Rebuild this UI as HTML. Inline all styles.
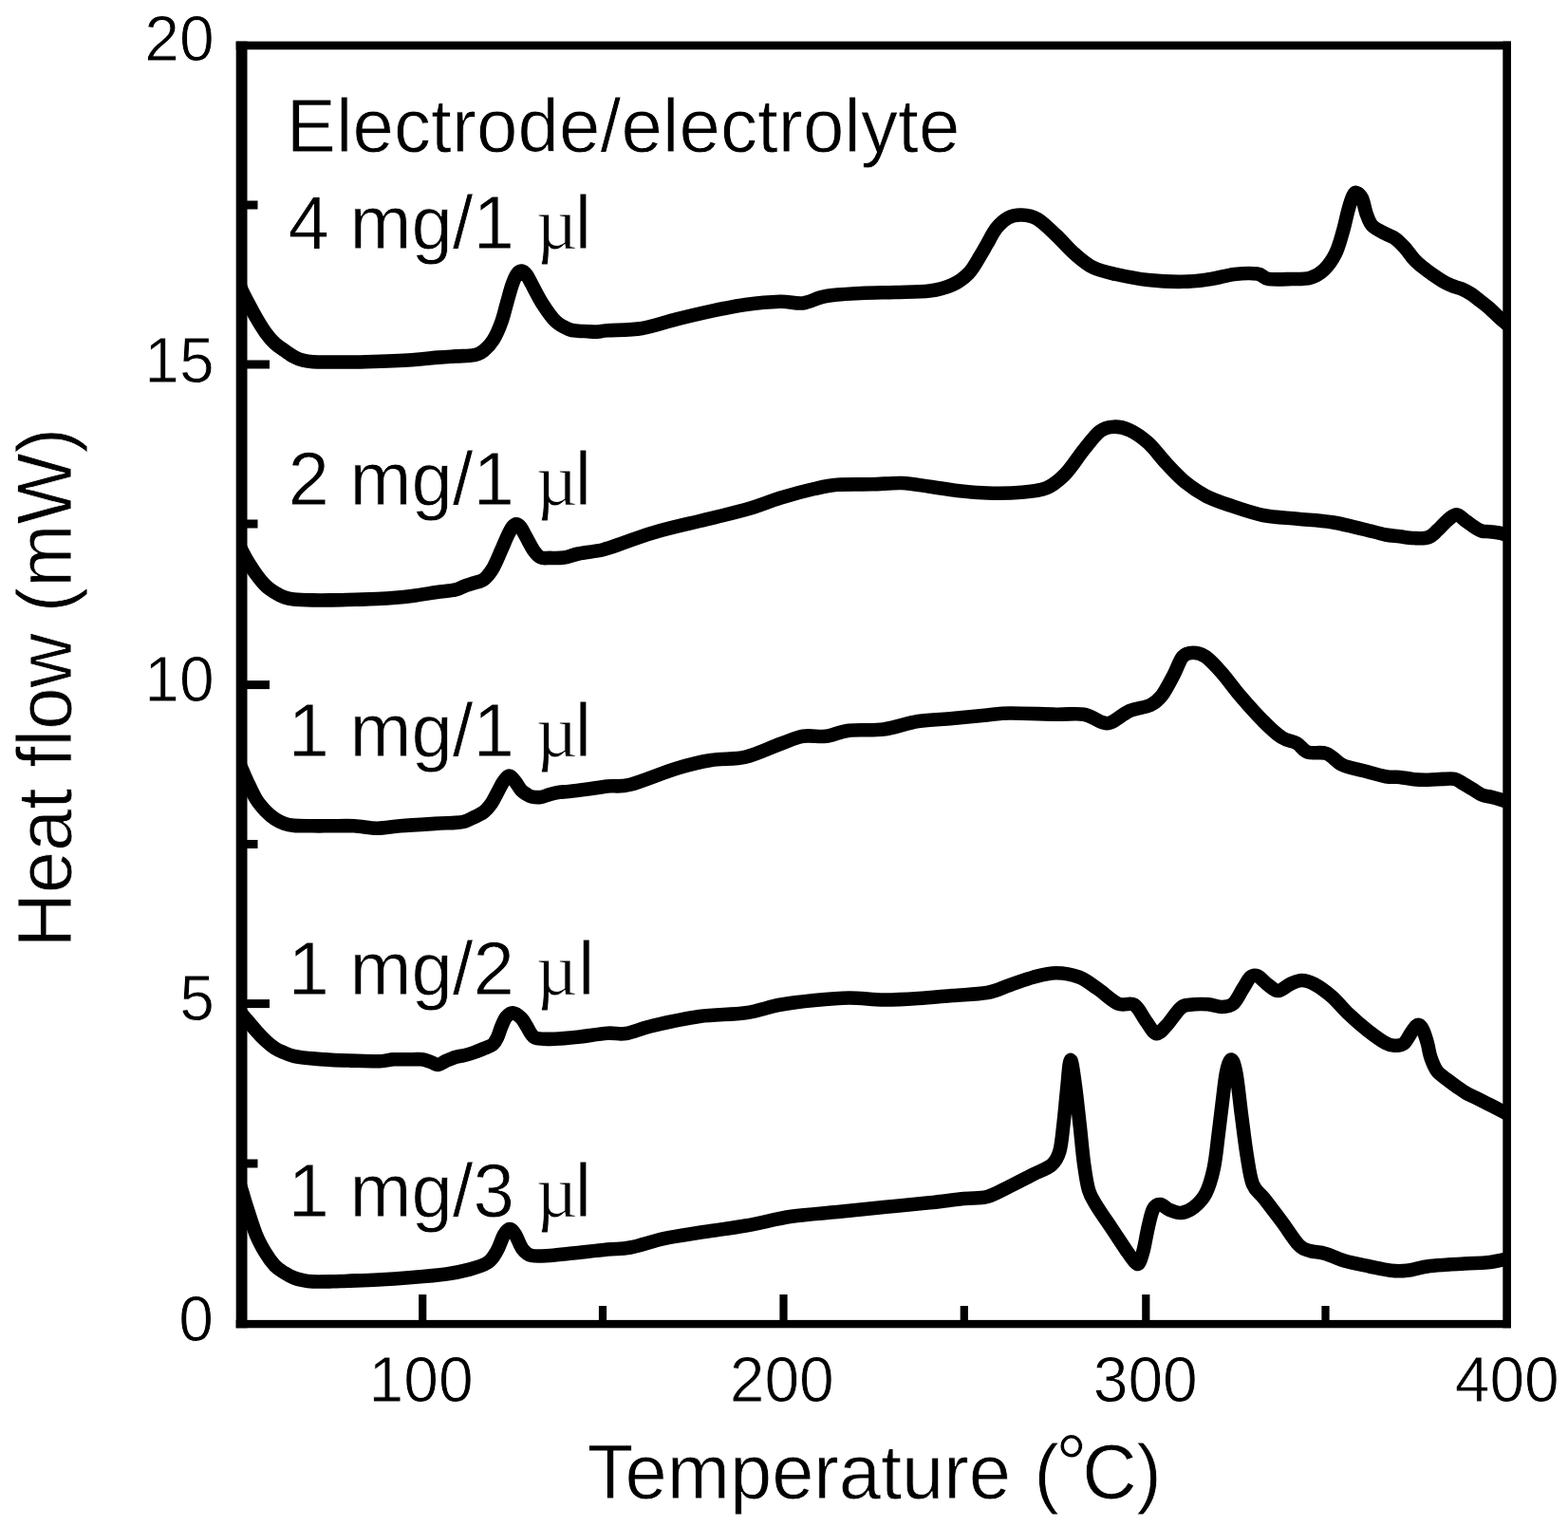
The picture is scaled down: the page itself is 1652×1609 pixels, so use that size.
<!DOCTYPE html>
<html lang="en">
<head>
<meta charset="utf-8">
<title>Heat flow vs temperature for electrode/electrolyte ratios</title>
<style>
html,body{margin:0;padding:0;background:#fff;}
body{width:1652px;height:1609px;overflow:hidden;}
svg{display:block;}
text{font-family:"Liberation Sans",sans-serif;fill:#000;stroke:#fff;stroke-width:0.8;}
.tk{font-size:66px;}
.lb{font-size:78px;}
.ax{font-size:79.5px;}
.mu{font-family:"Liberation Serif",serif;font-size:76px;}
.dg{font-size:84px;}
.cv{fill:none;stroke:#000;stroke-width:14.6;stroke-linejoin:round;stroke-linecap:butt;}
.fr{fill:#000;}
</style>
</head>
<body>
<svg width="1652" height="1609" viewBox="0 0 1652 1609" role="img" aria-label="Heat flow (mW) versus temperature for five electrode/electrolyte ratios">
<rect x="0" y="0" width="1652" height="1609" fill="#fff"/>
<g id="labels">
<text class="lb" style="letter-spacing:0.15px" transform="translate(301.8 159.5) scale(1 1.03)">Electrode/electrolyte</text>
<text class="lb" transform="translate(0 262) scale(1 1.03)"><tspan x="303.5">4 mg/1 </tspan><tspan class="mu" x="564.8">µ</tspan><tspan x="605.7">l</tspan></text>
<text class="lb" transform="translate(0 532) scale(1 1.03)"><tspan x="303.5">2 mg/1 </tspan><tspan class="mu" x="564.8">µ</tspan><tspan x="605.7">l</tspan></text>
<text class="lb" transform="translate(0 796.6) scale(1 1.03)"><tspan x="303.5">1 mg/1 </tspan><tspan class="mu" x="564.8">µ</tspan><tspan x="605.7">l</tspan></text>
<text class="lb" transform="translate(0 1048.1) scale(1 1.03)"><tspan x="303.5">1 mg/2 </tspan><tspan class="mu" x="564.8">µ</tspan><tspan x="608.9">l</tspan></text>
<text class="lb" transform="translate(0 1282.3) scale(1 1.03)"><tspan x="303.5">1 mg/3 </tspan><tspan class="mu" x="564.8">µ</tspan><tspan x="605.7">l</tspan></text>
</g>
<defs><clipPath id="plotclip"><rect x="250.7" y="43.6" width="1339.3" height="1355.7"/></clipPath></defs>
<g id="curves" clip-path="url(#plotclip)">
<path class="cv" d="M246.7 286.1C247.6 288.2 250.5 295.4 252.0 299.0C253.5 302.6 254.1 304.5 255.5 307.5C256.9 310.5 258.0 312.6 260.4 317.1C262.8 321.6 266.6 328.9 269.8 334.5C273.0 340.1 276.5 345.8 279.8 350.4C283.1 355.0 286.4 358.8 289.7 361.9C293.0 365.0 296.4 367.0 299.7 369.3C303.0 371.6 306.3 374.1 309.6 375.8C312.9 377.6 316.3 378.9 319.6 379.8C322.9 380.7 324.4 381.0 329.5 381.3C334.6 381.6 340.7 381.5 350.0 381.5C359.3 381.5 371.5 381.6 385.5 381.2C399.5 380.8 421.2 380.1 434.0 379.3C446.8 378.5 454.3 377.2 462.0 376.6C469.7 376.0 473.7 375.8 480.0 375.4C486.3 375.0 494.9 375.2 499.9 374.2C504.9 373.2 506.5 372.1 509.8 369.4C513.1 366.7 516.7 363.0 519.8 358.0C522.9 353.0 525.9 346.0 528.2 339.6C530.6 333.2 532.0 326.3 533.9 319.7C535.8 313.1 537.9 304.9 539.7 299.8C541.5 294.7 542.9 291.4 544.5 289.0C546.1 286.6 547.9 285.4 549.6 285.6C551.4 285.8 553.2 287.6 555.0 290.0C556.8 292.4 557.7 294.9 560.4 299.8C563.1 304.8 567.1 313.2 571.3 319.7C575.5 326.2 580.7 334.1 585.4 338.6C590.1 343.2 595.3 345.3 599.3 347.0C603.3 348.7 606.0 348.3 609.3 348.7C612.6 349.1 615.9 349.0 619.2 349.2C622.5 349.4 625.7 349.8 629.2 349.6C632.7 349.5 632.1 348.9 640.0 348.3C647.9 347.7 664.3 348.0 676.4 346.0C688.5 344.0 700.6 339.4 712.7 336.4C724.8 333.4 736.9 330.5 749.0 327.9C761.1 325.3 773.4 322.7 785.5 321.0C797.6 319.3 811.7 318.0 821.8 317.7C831.9 317.4 837.9 320.3 846.0 319.4C854.1 318.4 860.2 313.7 870.3 312.0C880.4 310.3 894.6 309.7 906.7 309.0C918.8 308.3 930.9 308.4 943.0 308.0C955.1 307.6 969.3 307.8 979.4 306.5C989.5 305.2 996.7 303.1 1003.6 300.0C1010.5 296.9 1015.8 292.9 1020.6 287.9C1025.5 282.8 1029.5 274.8 1032.7 269.7C1035.9 264.6 1037.2 261.9 1040.0 257.0C1042.8 252.2 1046.1 245.2 1049.7 240.6C1053.3 236.0 1057.3 232.0 1061.8 229.7C1066.2 227.3 1071.2 226.3 1076.4 226.5C1081.7 226.7 1087.2 227.4 1093.3 231.0C1099.3 234.6 1106.2 241.8 1112.7 247.9C1119.2 254.0 1125.5 261.7 1132.0 267.3C1138.5 272.9 1144.2 278.2 1151.5 281.8C1158.8 285.4 1166.1 286.8 1175.8 289.0C1185.5 291.2 1198.0 293.7 1209.7 295.0C1221.4 296.3 1235.0 297.0 1246.0 296.8C1257.0 296.6 1266.9 295.3 1276.0 294.0C1285.1 292.7 1292.4 289.9 1300.5 289.0C1308.6 288.1 1318.7 287.8 1324.7 288.6C1330.8 289.4 1330.8 293.1 1336.8 294.0C1342.8 294.9 1353.7 294.2 1361.0 294.0C1368.3 293.8 1374.8 294.3 1380.5 292.7C1386.2 291.1 1390.6 288.4 1395.0 284.2C1399.4 280.0 1403.8 273.8 1407.0 267.3C1410.2 260.9 1412.2 253.2 1414.4 245.5C1416.7 237.8 1418.7 227.7 1420.5 221.2C1422.3 214.7 1423.9 209.7 1425.3 206.7C1426.7 203.7 1427.4 202.6 1429.0 203.0C1430.6 203.4 1433.2 205.2 1435.0 209.0C1436.8 212.8 1438.1 221.2 1439.9 226.0C1441.7 230.8 1442.7 234.6 1446.0 238.0C1449.3 241.4 1456.0 244.2 1460.0 246.4C1464.0 248.6 1466.6 248.9 1469.9 251.3C1473.2 253.7 1476.6 257.2 1479.9 260.8C1483.2 264.4 1486.5 269.6 1489.8 273.2C1493.1 276.8 1496.5 279.5 1499.8 282.2C1503.1 284.9 1506.4 287.3 1509.7 289.6C1513.0 291.9 1516.4 294.2 1519.7 296.1C1523.0 298.0 1526.3 299.6 1529.6 301.0C1532.9 302.4 1536.3 302.9 1539.6 304.3C1542.9 305.7 1546.2 307.4 1549.5 309.5C1552.8 311.6 1556.1 314.4 1559.4 317.0C1562.7 319.6 1566.1 322.0 1569.4 324.9C1572.7 327.8 1576.3 331.7 1579.3 334.4C1582.3 337.1 1584.2 338.6 1587.3 341.3C1590.4 344.0 1596.1 348.9 1597.9 350.4"/>
<path class="cv" d="M245.4 562.7C246.5 564.7 250.3 571.9 252.0 575.0C253.7 578.1 254.1 578.9 255.5 581.5C256.9 584.1 258.0 586.7 260.4 590.6C262.8 594.5 266.6 600.6 269.8 605.0C273.0 609.4 276.5 613.8 279.8 617.0C283.1 620.2 286.4 622.3 289.7 624.4C293.0 626.5 296.4 628.2 299.7 629.4C303.0 630.6 304.6 630.9 309.6 631.4C314.6 631.9 322.9 632.2 329.5 632.4C336.1 632.6 341.8 632.5 349.4 632.4C357.0 632.3 367.0 631.9 375.0 631.7C383.0 631.5 387.8 631.6 397.6 631.0C407.4 630.4 423.6 629.1 434.0 627.9C444.4 626.7 452.3 625.1 460.0 624.0C467.7 622.9 475.0 622.4 480.0 621.3C485.0 620.2 486.6 618.5 489.9 617.3C493.2 616.1 496.6 615.4 499.9 614.2C503.2 613.1 506.6 612.9 509.8 610.4C513.0 607.9 515.9 604.5 519.0 599.4C522.1 594.3 525.6 585.4 528.2 579.6C530.8 573.8 532.7 568.7 534.7 564.6C536.7 560.5 538.4 557.1 540.0 555.0C541.6 552.9 542.7 552.1 544.1 552.2C545.5 552.3 546.9 553.4 548.5 555.5C550.1 557.6 551.4 560.6 553.6 564.6C555.9 568.6 559.4 575.8 562.0 579.6C564.6 583.4 566.6 585.9 569.5 587.3C572.4 588.7 575.2 587.9 579.4 587.9C583.5 587.9 589.4 588.2 594.4 587.5C599.4 586.8 603.5 584.7 609.3 583.5C615.1 582.3 624.1 581.4 629.2 580.4C634.3 579.4 630.1 581.0 640.0 577.8C649.9 574.6 672.3 566.0 688.5 561.2C704.7 556.4 720.8 553.0 737.0 549.0C753.2 545.0 771.4 541.0 785.5 537.0C799.6 533.0 809.7 528.5 821.8 524.8C833.9 521.1 848.1 517.3 858.2 515.0C868.3 512.7 872.3 511.6 882.4 510.8C892.5 510.0 907.5 510.6 918.8 510.3C930.1 510.0 940.2 508.6 950.3 509.0C960.4 509.4 969.7 511.4 979.4 512.7C989.1 514.0 998.4 515.9 1008.5 517.0C1018.6 518.1 1028.7 519.2 1040.0 519.5C1051.3 519.8 1065.9 519.7 1076.4 518.8C1086.9 517.9 1095.3 517.2 1103.0 514.0C1110.7 510.8 1115.9 506.1 1122.4 499.4C1128.9 492.7 1135.7 481.5 1141.8 474.0C1147.9 466.5 1153.5 458.6 1158.8 454.5C1164.0 450.4 1168.0 449.9 1173.3 449.7C1178.5 449.5 1184.2 450.5 1190.3 453.3C1196.4 456.1 1203.2 460.8 1209.7 466.7C1216.2 472.6 1222.5 481.6 1229.0 488.5C1235.5 495.4 1241.6 502.2 1248.5 507.9C1255.4 513.5 1262.6 518.4 1270.3 522.4C1278.0 526.4 1284.4 528.6 1294.5 532.0C1304.6 535.4 1318.9 540.5 1331.0 543.0C1343.1 545.5 1355.2 545.5 1367.3 546.7C1379.4 547.9 1390.5 548.1 1403.6 550.3C1416.7 552.5 1436.6 557.8 1446.0 560.0C1455.4 562.2 1455.2 562.6 1460.0 563.5C1464.8 564.4 1469.9 564.7 1474.9 565.3C1479.9 565.9 1484.8 566.8 1489.8 567.0C1494.8 567.2 1500.5 567.7 1504.7 566.3C1508.9 564.9 1511.4 561.5 1514.7 558.6C1518.0 555.7 1521.3 551.3 1524.6 548.6C1527.9 545.9 1531.3 542.1 1534.6 542.2C1537.9 542.3 1541.2 546.8 1544.5 549.1C1547.8 551.4 1551.7 554.4 1554.5 556.1C1557.3 557.9 1558.9 558.9 1561.4 559.6C1563.9 560.3 1566.4 559.9 1569.4 560.2C1572.4 560.5 1576.3 561.0 1579.3 561.5C1582.3 562.0 1583.7 562.6 1587.3 563.5C1590.9 564.4 1598.6 566.3 1600.9 566.9"/>
<path class="cv" d="M246.4 791.2C247.3 793.3 250.5 800.5 252.0 804.0C253.5 807.5 254.1 808.8 255.5 812.0C256.9 815.2 258.0 818.1 260.4 823.1C262.8 828.1 266.6 836.8 269.8 842.0C273.0 847.2 276.5 851.0 279.8 854.5C283.1 858.0 286.4 860.7 289.7 862.9C293.0 865.1 296.4 866.7 299.7 867.9C303.0 869.1 304.6 869.5 309.6 869.9C314.6 870.3 322.9 870.2 329.5 870.3C336.1 870.4 341.7 870.3 349.0 870.3C356.3 870.3 365.2 869.9 373.3 870.3C381.4 870.7 389.5 872.7 397.6 872.7C405.7 872.7 411.7 871.1 421.8 870.3C431.9 869.5 448.5 868.5 458.2 867.9C467.9 867.3 474.7 867.3 480.0 866.9C485.3 866.5 486.6 866.4 489.9 865.4C493.2 864.4 496.6 862.5 499.9 860.9C503.2 859.2 506.8 857.9 509.8 855.5C512.8 853.1 515.5 849.8 517.8 846.5C520.1 843.2 521.8 839.2 523.8 835.6C525.8 832.0 527.7 827.6 529.7 824.6C531.7 821.6 534.1 818.6 535.7 817.8C537.3 816.9 538.2 818.4 539.5 819.5C540.8 820.6 542.0 822.4 543.6 824.6C545.2 826.8 547.3 830.6 549.1 832.6C550.9 834.6 552.9 835.7 554.6 836.8C556.4 837.9 557.1 838.9 559.6 839.4C562.1 839.9 566.2 840.4 569.5 840.0C572.8 839.6 576.1 837.9 579.4 837.0C582.7 836.1 586.1 835.3 589.4 834.8C592.7 834.3 594.3 834.5 599.3 834.0C604.3 833.5 612.4 832.5 619.2 831.6C626.0 830.7 632.5 829.2 640.0 828.4C647.5 827.6 651.9 829.8 664.0 826.7C676.1 823.6 698.5 814.0 712.7 809.7C726.9 805.4 736.9 803.0 749.0 801.0C761.1 799.0 773.4 800.4 785.5 797.6C797.6 794.8 811.7 787.6 821.8 784.0C831.9 780.4 837.9 777.2 846.0 775.8C854.1 774.4 862.2 776.8 870.3 775.8C878.4 774.8 884.4 770.9 894.5 769.7C904.6 768.5 918.8 770.1 930.9 768.5C943.0 766.9 955.2 761.9 967.3 760.0C979.4 758.1 991.5 758.1 1003.6 757.0C1015.7 755.9 1029.9 754.4 1040.0 753.5C1050.1 752.6 1051.9 751.6 1064.0 751.5C1076.1 751.4 1099.7 752.5 1112.7 752.7C1125.7 752.9 1133.8 751.3 1141.8 752.7C1149.8 754.1 1156.1 759.6 1161.0 761.0C1165.9 762.4 1166.1 763.0 1171.0 761.0C1175.9 759.0 1183.5 752.0 1190.3 749.0C1197.1 746.0 1206.4 745.7 1212.0 743.0C1217.6 740.3 1219.9 738.2 1224.0 733.0C1228.1 727.8 1232.7 718.3 1236.4 711.5C1240.1 704.7 1242.6 696.0 1246.0 692.0C1249.4 688.0 1253.0 687.8 1257.0 687.8C1261.0 687.8 1265.2 688.5 1270.3 692.0C1275.3 695.5 1281.2 702.1 1287.3 709.0C1293.4 715.9 1299.4 724.8 1306.7 733.3C1314.0 741.8 1323.7 752.7 1331.0 760.0C1338.3 767.3 1344.5 773.2 1350.3 777.0C1356.1 780.8 1361.4 780.4 1366.0 783.0C1370.6 785.6 1372.8 790.9 1378.0 792.7C1383.2 794.5 1391.4 791.8 1397.5 794.0C1403.6 796.2 1408.0 803.0 1414.4 806.0C1420.8 809.0 1428.4 810.0 1436.0 812.0C1443.6 814.0 1453.5 817.1 1460.0 818.2C1466.5 819.4 1469.9 818.4 1474.9 818.9C1479.9 819.4 1484.8 820.7 1489.8 821.2C1494.8 821.7 1499.7 821.8 1504.7 821.7C1509.7 821.7 1515.1 821.0 1519.7 820.9C1524.3 820.8 1529.0 820.1 1532.6 820.9C1536.2 821.7 1538.3 823.8 1541.5 825.6C1544.7 827.4 1548.2 829.6 1551.5 831.6C1554.8 833.6 1558.1 836.2 1561.4 837.6C1564.7 839.0 1568.4 839.1 1571.4 839.8C1574.4 840.5 1576.7 841.2 1579.3 842.0C1581.9 842.8 1583.7 843.4 1587.3 844.5C1590.9 845.6 1598.4 848.0 1600.7 848.7"/>
<path class="cv" d="M243.2 1054.1C244.6 1056.0 249.9 1062.5 252.0 1065.0C254.1 1067.5 254.1 1067.6 255.5 1069.3C256.9 1071.0 258.0 1072.3 260.4 1075.1C262.8 1077.9 266.6 1082.5 269.8 1086.1C273.0 1089.7 276.5 1093.4 279.8 1096.5C283.1 1099.6 286.4 1102.3 289.7 1104.5C293.0 1106.7 296.4 1108.0 299.7 1109.4C303.0 1110.8 306.3 1112.1 309.6 1112.9C312.9 1113.7 316.3 1114.0 319.6 1114.4C322.9 1114.8 324.5 1115.0 329.5 1115.4C334.5 1115.8 342.8 1116.5 349.4 1116.9C356.0 1117.3 360.9 1117.4 369.3 1117.6C377.7 1117.8 392.4 1118.4 400.0 1118.2C407.6 1118.0 409.1 1116.6 414.9 1116.3C420.7 1116.0 429.8 1116.3 434.8 1116.3C439.8 1116.3 441.4 1115.8 444.7 1116.3C448.0 1116.8 451.9 1118.5 454.7 1119.4C457.5 1120.3 459.2 1122.1 461.7 1121.9C464.2 1121.7 466.6 1119.3 469.6 1118.0C472.6 1116.7 476.3 1115.0 479.6 1114.0C482.9 1113.0 486.2 1112.8 489.5 1112.0C492.8 1111.2 496.1 1110.2 499.4 1109.0C502.7 1107.8 506.1 1106.4 509.4 1105.0C512.7 1103.6 516.8 1102.6 519.3 1100.5C521.8 1098.4 522.8 1095.7 524.3 1092.6C525.8 1089.5 526.8 1085.2 528.3 1081.7C529.8 1078.2 531.3 1074.1 533.3 1071.7C535.3 1069.3 537.6 1067.0 540.2 1067.2C542.9 1067.4 546.7 1070.3 549.2 1072.7C551.7 1075.1 553.3 1078.8 555.1 1081.7C556.9 1084.6 558.2 1087.9 560.0 1090.0C561.8 1092.1 562.0 1093.4 566.0 1094.2C570.0 1095.0 577.1 1095.0 584.2 1094.7C591.3 1094.5 599.2 1093.7 608.5 1092.7C617.8 1091.7 631.5 1089.3 640.0 1088.7C648.5 1088.1 651.3 1090.3 659.4 1089.0C667.5 1087.7 675.6 1083.6 688.5 1080.6C701.4 1077.6 720.8 1073.2 737.0 1071.0C753.2 1068.8 771.4 1069.3 785.5 1067.3C799.6 1065.3 809.7 1061.0 821.8 1058.8C833.9 1056.6 846.1 1055.2 858.2 1054.0C870.3 1052.8 882.4 1051.6 894.5 1051.5C906.6 1051.4 918.8 1053.4 930.9 1053.5C943.0 1053.6 955.2 1052.8 967.3 1052.0C979.4 1051.2 991.5 1050.0 1003.6 1049.0C1015.7 1048.0 1029.9 1047.8 1040.0 1046.0C1050.1 1044.2 1055.9 1040.7 1064.0 1038.0C1072.1 1035.3 1080.4 1031.8 1088.5 1029.7C1096.6 1027.6 1104.6 1025.3 1112.7 1025.3C1120.8 1025.3 1129.7 1027.0 1137.0 1029.7C1144.3 1032.5 1149.6 1037.2 1156.4 1041.8C1163.2 1046.4 1171.6 1054.8 1178.0 1057.6C1184.4 1060.4 1190.1 1055.8 1195.0 1058.8C1199.9 1061.8 1203.5 1070.8 1207.3 1075.8C1211.1 1080.8 1214.4 1088.2 1218.0 1089.0C1221.6 1089.8 1224.7 1085.0 1229.0 1080.6C1233.3 1076.2 1239.5 1066.0 1243.6 1062.4C1247.6 1058.8 1248.4 1059.5 1253.3 1058.8C1258.2 1058.1 1267.0 1057.9 1272.7 1058.3C1278.4 1058.7 1282.8 1061.1 1287.3 1061.0C1291.8 1060.9 1295.7 1060.8 1299.4 1057.6C1303.1 1054.4 1306.5 1046.5 1309.5 1041.8C1312.5 1037.1 1314.9 1031.7 1317.5 1029.5C1320.1 1027.3 1321.9 1027.1 1325.0 1028.5C1328.1 1029.9 1332.7 1035.4 1336.3 1038.0C1339.9 1040.6 1342.8 1044.2 1346.6 1044.0C1350.4 1043.8 1355.2 1038.8 1359.3 1037.0C1363.4 1035.2 1367.2 1033.0 1371.4 1033.0C1375.7 1033.0 1379.5 1034.2 1384.8 1037.0C1390.1 1039.8 1397.0 1044.8 1403.0 1050.0C1409.0 1055.2 1414.8 1062.6 1421.0 1068.5C1427.2 1074.4 1434.0 1080.4 1440.5 1085.5C1447.0 1090.6 1455.1 1096.5 1460.0 1099.2C1464.9 1101.9 1466.8 1101.6 1469.9 1101.7C1473.1 1101.8 1476.2 1101.9 1478.9 1099.7C1481.7 1097.5 1484.2 1091.8 1486.4 1088.7C1488.6 1085.6 1490.5 1082.6 1492.0 1081.2C1493.5 1079.8 1494.2 1079.5 1495.5 1080.3C1496.8 1081.1 1498.1 1082.8 1499.5 1086.0C1500.9 1089.2 1502.7 1094.9 1504.0 1099.7C1505.3 1104.5 1505.8 1109.8 1507.5 1114.6C1509.2 1119.4 1511.2 1124.7 1514.0 1128.5C1516.8 1132.3 1521.2 1134.8 1524.6 1137.5C1528.0 1140.2 1531.3 1142.6 1534.6 1144.9C1537.9 1147.2 1541.2 1149.7 1544.5 1151.6C1547.8 1153.5 1551.2 1154.8 1554.5 1156.5C1557.8 1158.2 1561.1 1159.8 1564.4 1161.5C1567.7 1163.2 1570.6 1164.5 1574.4 1166.5C1578.2 1168.5 1583.1 1171.1 1587.3 1173.3C1591.5 1175.5 1597.6 1178.7 1599.7 1179.8"/>
<path class="cv" d="M247.8 1232.7C248.5 1234.9 250.7 1241.9 252.0 1246.0C253.3 1250.1 254.1 1252.5 255.5 1257.0C256.9 1261.5 258.0 1265.8 260.4 1273.1C262.8 1280.4 266.6 1293.0 269.8 1300.9C273.0 1308.8 276.5 1314.8 279.8 1320.3C283.1 1325.8 286.4 1330.3 289.7 1333.8C293.0 1337.3 296.4 1339.1 299.7 1341.2C303.0 1343.3 306.3 1345.1 309.6 1346.4C312.9 1347.7 316.3 1348.5 319.6 1349.2C322.9 1349.9 324.4 1350.2 329.5 1350.4C334.6 1350.6 343.9 1350.4 350.0 1350.3C356.1 1350.2 358.1 1350.0 366.0 1349.7C373.9 1349.4 386.3 1349.1 397.6 1348.5C408.9 1347.9 421.9 1347.0 434.0 1346.0C446.1 1345.0 460.2 1343.8 470.3 1342.4C480.4 1341.0 487.2 1339.6 494.5 1337.6C501.8 1335.6 509.1 1333.6 514.0 1330.3C518.9 1327.0 520.8 1322.9 523.6 1318.0C526.4 1313.1 528.8 1304.8 531.0 1301.0C533.2 1297.2 535.0 1295.0 537.0 1295.0C539.0 1295.0 540.8 1297.5 543.0 1301.0C545.2 1304.5 547.5 1312.1 550.3 1315.8C553.1 1319.5 555.1 1321.8 560.0 1323.0C564.9 1324.2 572.1 1323.4 579.4 1323.0C586.7 1322.6 593.5 1321.7 603.6 1320.6C613.7 1319.5 629.9 1317.5 640.0 1316.5C650.1 1315.5 653.9 1316.5 664.0 1314.5C674.1 1312.5 688.4 1307.4 700.6 1304.8C712.8 1302.2 722.9 1301.0 737.0 1298.8C751.1 1296.6 769.3 1294.3 785.5 1291.5C801.7 1288.7 817.9 1284.2 834.0 1281.8C850.1 1279.4 866.2 1278.6 882.4 1277.0C898.5 1275.4 914.7 1273.6 930.9 1272.0C947.1 1270.4 965.2 1268.8 979.4 1267.3C993.5 1265.8 1005.7 1264.0 1015.8 1263.0C1025.9 1262.0 1032.0 1263.2 1040.0 1261.0C1048.0 1258.8 1055.9 1253.9 1064.0 1250.0C1072.1 1246.1 1081.2 1241.2 1088.5 1237.5C1095.8 1233.8 1103.3 1231.6 1108.0 1227.5C1112.7 1223.4 1114.3 1220.2 1116.4 1213.0C1118.5 1205.8 1119.2 1195.0 1120.5 1184.0C1121.8 1173.0 1123.0 1158.2 1124.2 1147.0C1125.4 1135.8 1126.4 1117.8 1127.8 1117.0C1129.2 1116.2 1131.0 1130.8 1132.6 1142.0C1134.2 1153.2 1135.9 1170.0 1137.5 1184.0C1139.1 1198.0 1140.4 1214.3 1142.0 1226.0C1143.6 1237.7 1144.8 1246.7 1147.0 1254.0C1149.2 1261.3 1151.0 1263.3 1155.0 1270.0C1159.0 1276.7 1165.9 1286.4 1171.0 1294.0C1176.1 1301.6 1181.5 1310.0 1185.5 1315.8C1189.5 1321.6 1192.6 1326.5 1195.0 1329.0C1197.4 1331.5 1198.4 1333.0 1200.0 1331.0C1201.6 1329.0 1203.2 1323.3 1204.8 1317.0C1206.4 1310.7 1208.0 1300.2 1209.7 1293.0C1211.4 1285.8 1212.9 1278.0 1215.0 1274.0C1217.1 1270.0 1219.6 1268.8 1222.5 1269.0C1225.4 1269.2 1228.8 1273.5 1232.5 1275.0C1236.2 1276.5 1240.2 1278.5 1244.5 1278.0C1248.8 1277.5 1253.7 1275.4 1258.0 1272.0C1262.3 1268.6 1266.8 1264.4 1270.3 1257.6C1273.8 1250.8 1276.6 1241.3 1278.8 1231.0C1281.0 1220.7 1282.1 1207.8 1283.6 1196.0C1285.1 1184.2 1286.6 1171.0 1288.0 1160.0C1289.4 1149.0 1290.5 1137.2 1292.0 1130.0C1293.5 1122.8 1295.5 1116.2 1297.2 1116.5C1299.0 1116.8 1300.7 1121.8 1302.5 1131.5C1304.3 1141.2 1306.1 1160.6 1308.0 1175.0C1309.9 1189.4 1311.8 1205.8 1313.8 1218.0C1315.8 1230.2 1317.0 1240.5 1320.0 1248.0C1323.0 1255.5 1326.8 1256.3 1332.0 1263.0C1337.2 1269.7 1344.9 1279.8 1351.0 1288.0C1357.1 1296.2 1363.7 1307.0 1368.5 1312.0C1373.3 1317.0 1375.3 1316.5 1380.0 1318.0C1384.7 1319.5 1390.3 1319.2 1396.4 1321.0C1402.5 1322.8 1408.7 1326.2 1416.5 1328.5C1424.3 1330.8 1434.9 1332.8 1443.0 1334.5C1451.1 1336.2 1458.8 1338.1 1465.3 1338.8C1471.8 1339.5 1475.4 1339.6 1482.3 1338.8C1489.2 1338.0 1496.4 1335.2 1506.5 1334.0C1516.6 1332.8 1532.9 1332.1 1543.0 1331.5C1553.1 1330.9 1559.7 1331.1 1567.0 1330.3C1574.3 1329.5 1581.4 1327.7 1587.0 1326.7C1592.6 1325.7 1598.5 1324.6 1600.8 1324.2"/>
</g>
<g id="frame" class="fr">
<rect x="248.7" y="43.6" width="11.8" height="1355.7"/>
<rect x="1583.3" y="43.6" width="8.7" height="1355.7"/>
<rect x="248.7" y="43.6" width="1343.3" height="8.7"/>
<rect x="248.7" y="1390.9" width="1343.3" height="8.4"/>
<rect x="259.5" y="379.5" width="24.5" height="9"/>
<rect x="259.5" y="717.1" width="24.5" height="9"/>
<rect x="259.5" y="1053.1" width="24.5" height="9"/>
<rect x="259.5" y="211.5" width="12" height="9"/>
<rect x="259.5" y="547.5" width="12" height="9"/>
<rect x="259.5" y="885" width="12" height="9"/>
<rect x="259.5" y="1221.5" width="12" height="9"/>
<rect x="441.1" y="1364" width="8.2" height="27.9"/>
<rect x="821.4" y="1364" width="8.2" height="27.9"/>
<rect x="1203.2" y="1364" width="8.2" height="27.9"/>
<rect x="630.9" y="1376" width="8.2" height="15.9"/>
<rect x="1011.7" y="1376" width="8.2" height="15.9"/>
<rect x="1392.4" y="1376" width="8.2" height="15.9"/>
</g>
<g id="ticks">
<text class="tk" transform="translate(152.3 64) scale(1 1.035)">20</text>
<text class="tk" transform="translate(152.3 402.8) scale(1 1.035)">15</text>
<text class="tk" transform="translate(152.3 738.8) scale(1 1.035)">10</text>
<text class="tk" transform="translate(189.3 1074.5) scale(1 1.035)">5</text>
<text class="tk" transform="translate(188.3 1413.1) scale(1 1.035)">0</text>
<text class="tk" transform="translate(388.55 1477.1) scale(1 1.035)">100</text>
<text class="tk" transform="translate(768.7 1477.1) scale(1 1.035)">200</text>
<text class="tk" transform="translate(1151.7 1477.1) scale(1 1.035)">300</text>
<text class="tk" transform="translate(1532.7 1477.1) scale(1 1.035)">400</text>
</g>
<text class="ax" transform="translate(74.6 998.6) rotate(-90) scale(1 1.03)">Heat flow (mW)</text>
<text class="ax" transform="translate(0 1579) scale(1 1.03)"><tspan x="618.8" y="0">Temperature</tspan><tspan x="1067.4" y="0"> (</tspan><tspan class="dg" x="1112" y="-5.44">°</tspan><tspan x="1140.3" y="0">C</tspan><tspan x="1197.2" y="0">)</tspan></text>
</svg>
</body>
</html>
